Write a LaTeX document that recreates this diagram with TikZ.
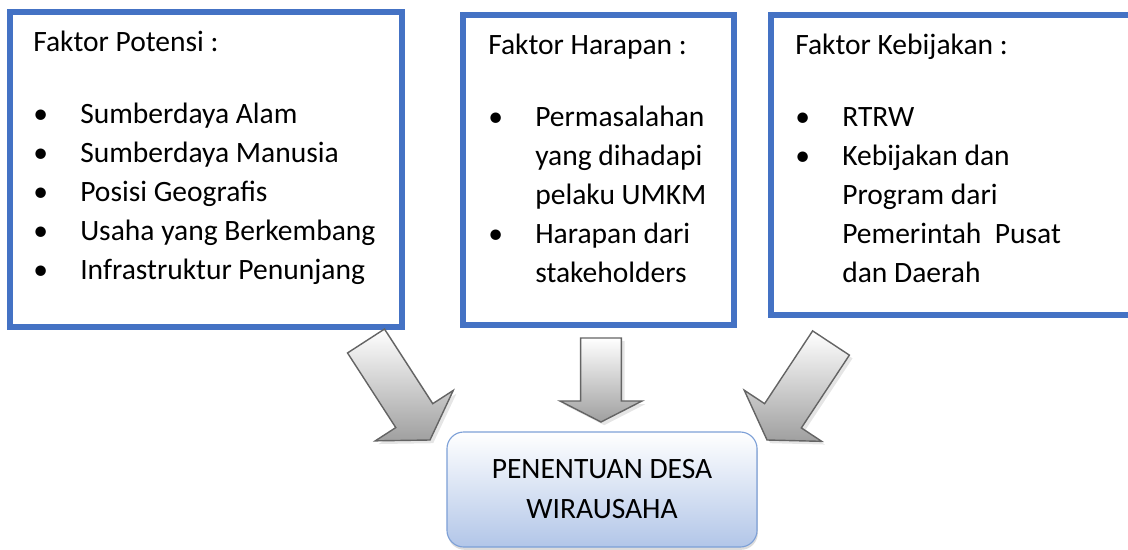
\documentclass[tikz,border=0pt]{standalone}
\usepackage{fontspec}
\setmainfont{Carlito}
\usetikzlibrary{calc, shadows}
\definecolor{FactorBlue}{RGB}{68, 114, 196}
\definecolor{GoalBlue}{RGB}{125, 160, 215}
\definecolor{GoalFill}{RGB}{178, 198, 232}
\definecolor{ArrowGray}{RGB}{100, 100, 100}
\newcommand{\itm}{\makebox[1.175cm][l]{\textbullet}}
\newcommand{\cont}{\hspace*{1.175cm}}
% fat block arrow: tail, tip, head length, half shaft, half head
\newcommand{\blockarrow}[5]{%
  \coordinate (#1-hb) at ($(#2)!#3!(#1)$);
  \path[fatarrow] ($(#1)!#4!90:(#2)$) -- ($(#1-hb)!#4!90:(#2)$) -- ($(#1-hb)!#5!90:(#2)$)
    -- (#2) -- ($(#1-hb)!#5!-90:(#2)$) -- ($(#1-hb)!#4!-90:(#2)$) -- ($(#1)!#4!-90:(#2)$) -- cycle;
}
\tikzset{
  factorbox/.style={rectangle, draw=FactorBlue, line width=0.15cm, fill=white, inner sep=0pt},
  listtext/.style={anchor=base west, inner sep=0pt, text width=9cm, align=flush left,
                   font=\fontsize{21}{27.7}\selectfont},
  goalbox/.style={rectangle, rounded corners=0.42cm, draw=GoalBlue, line width=0.8pt,
                  top color=white, bottom color=GoalFill,
                  drop shadow={shadow xshift=0.02cm, shadow yshift=-0.07cm, fill=gray!55},
                  minimum width=7.75cm, minimum height=2.875cm, align=center,
                  font=\fontsize{21}{28.45}\selectfont},
  fatarrow/.style={draw=ArrowGray, line width=1pt, line join=miter,
                   top color=white, bottom color=gray!75,
                   drop shadow={shadow xshift=0.08cm, shadow yshift=-0.08cm, fill=gray!40}},
}
\begin{document}
\begin{tikzpicture}[x=0.025cm, y=-0.025cm]
  \useasboundingbox (0,0) rectangle (1128,550);

  % three factor boxes
  \node[factorbox, minimum width=9.8cm, minimum height=7.875cm] (potensi) at (206,169.5) {};
  \node[factorbox, minimum width=6.75cm, minimum height=7.75cm] (harapan) at (598.5,170) {};
  \node[factorbox, minimum width=9.2cm, minimum height=7.5cm] (kebijakan) at (955.5,165) {};

  \node[listtext] (potensitext) at (33,52) {Faktor Potensi :\\[0.825cm]
    \itm Sumberdaya Alam\\ \itm Sumberdaya Manusia\\ \itm Posisi Geografis\\
    \itm Usaha yang Berkembang\\ \itm Infrastruktur Penunjang};
  \node[listtext] (harapantext) at (488,55) {Faktor Harapan :\\[0.825cm]
    \itm Permasalahan\\ \cont yang dihadapi\\ \cont pelaku UMKM\\
    \itm Harapan dari\\ \cont stakeholders};
  \node[listtext] (kebijakantext) at (795,55) {Faktor Kebijakan :\\[0.825cm]
    \itm RTRW\\ \itm Kebijakan dan\\ \cont Program dari\\
    \cont Pemerintah~ Pusat\\ \cont dan Daerah};

  % result
  \node[goalbox] (desa) at (602,489.5) {PENENTUAN DESA\\WIRAUSAHA};

  % arrows into the result
  \coordinate (potensi-out) at (366,341);
  \coordinate (potensi-in) at (430,440);
  \coordinate (harapan-out) at (601,338);
  \coordinate (harapan-in) at (601,422);
  \coordinate (kebijakan-out) at (831,343);
  \coordinate (kebijakan-in) at (767,440);
  \blockarrow{potensi-out}{potensi-in}{0.725cm}{0.55cm}{1.16cm}
  \blockarrow{harapan-out}{harapan-in}{0.525cm}{0.51cm}{1.025cm}
  \blockarrow{kebijakan-out}{kebijakan-in}{0.725cm}{0.55cm}{1.16cm}
\end{tikzpicture}
\end{document}
